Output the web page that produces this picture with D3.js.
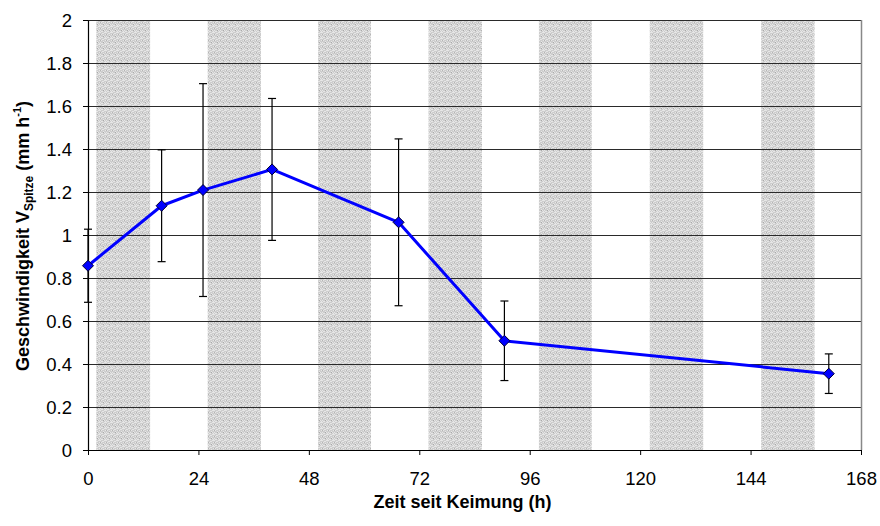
<!DOCTYPE html>
<html>
<head>
<meta charset="utf-8">
<script src="https://cdn.jsdelivr.net/npm/d3@7"></script>
<style>
  body { margin: 0; background: #fff; }
  text { font-family: Arial, "Liberation Sans", sans-serif; }
  .tick text { font-size: 18.5px; fill: #000; }
  .title { font-size: 18px; font-weight: bold; }
</style>
</head>
<body>
<svg id="chart" width="880" height="526"></svg>
<script>
// Zeit seit Keimung (h) und Geschwindigkeit (mm/h)
var hours = [0, 16, 25, 40, 67.5, 90.5, 161];
var speed = [0.857, 1.136, 1.209, 1.305, 1.059, 0.508, 0.355];
var errs  = [0.17, 0.26, 0.495, 0.33, 0.388, 0.185, 0.092];

// dunkel-Phasen (grau hinterlegt)
var darkStart = [1.8, 26, 50, 74, 98, 122.1, 146.3];
var darkEnd   = [13.5, 37.6, 61.5, 85.6, 109.5, 133.7, 157.9];

var xTicks = [0, 24, 48, 72, 96, 120, 144, 168];
var yTicks = [0, 0.2, 0.4, 0.6, 0.8, 1, 1.2, 1.4, 1.6, 1.8, 2];

var svg = d3.select("#chart"),
    margin = {top: 20, right: 19, bottom: 76, left: 88},
    width = svg.attr("width") - margin.left - margin.right,
    height = svg.attr("height") - margin.top - margin.bottom;

var x = d3.scaleLinear().domain([0, 168]).range([0, width]),
    y = d3.scaleLinear().domain([0, 2]).range([height, 0]);

// stipple texture for the bands
var defs = svg.append("defs");
var pat = defs.append("pattern")
    .attr("id", "stipple")
    .attr("patternUnits", "userSpaceOnUse")
    .attr("width", 6).attr("height", 6);
pat.append("rect").attr("width", 6).attr("height", 6).attr("fill", "#cdcdcd");
var light = [[0,0],[2,1],[4,0],[1,2],[3,3],[5,2],[0,4],[2,5],[4,4],[5,5],[1,5],[3,1],[5,0]];
light.forEach(function(p) {
  pat.append("rect").attr("x", p[0]).attr("y", p[1]).attr("width", 1).attr("height", 1).attr("fill", "#e6e6e6");
});
pat.append("rect").attr("x", 3).attr("y", 4).attr("width", 1).attr("height", 1).attr("fill", "#aaaaaa");
pat.append("rect").attr("x", 0).attr("y", 2).attr("width", 1).attr("height", 1).attr("fill", "#b4b4b4");

var g = svg.append("g")
    .attr("transform", "translate(" + margin.left + "," + margin.top + ")");

g.selectAll(".band")
  .data(darkStart)
  .enter().append("rect")
    .attr("class", "band")
    .attr("x", function(d) { return x(d); })
    .attr("y", 0)
    .attr("width", function(d, i) { return x(darkEnd[i]) - x(d); })
    .attr("height", height)
    .attr("fill", "url(#stipple)");

// gridlines
g.selectAll(".grid")
  .data(yTicks.slice(1))
  .enter().append("line")
    .attr("class", "grid")
    .attr("x1", 0).attr("x2", width)
    .attr("y1", function(d) { return Math.round(y(d)) + 0.5; })
    .attr("y2", function(d) { return Math.round(y(d)) + 0.5; })
    .attr("stroke", "#2a2a2a")
    .attr("stroke-width", 1);

// right border
g.append("line")
    .attr("x1", width + 0.5).attr("x2", width + 0.5)
    .attr("y1", 0).attr("y2", height)
    .attr("stroke", "#888").attr("stroke-width", 1.5);

var fmt = function(d) { return String(+d.toFixed(1)); };

var xAxis = g.append("g")
    .attr("class", "axis axis--x")
    .attr("transform", "translate(0," + height + ")")
    .call(d3.axisBottom(x).tickValues(xTicks).tickSize(5).tickSizeOuter(0).tickPadding(17));

var yAxis = g.append("g")
    .attr("class", "axis axis--y")
    .call(d3.axisLeft(y).tickValues(yTicks).tickFormat(fmt).tickSize(5).tickSizeOuter(0).tickPadding(11));

svg.selectAll(".axis path").attr("stroke", "#000").attr("stroke-width", 1.2);
svg.selectAll(".axis line").attr("stroke", "#000");
svg.selectAll(".axis text").attr("font-family", "Arial, 'Liberation Sans', sans-serif");
yAxis.selectAll("text").attr("dy", "0.36em");

// error bars
var eb = g.selectAll(".err")
  .data(hours)
  .enter().append("g")
    .attr("class", "err");
eb.append("line")
    .attr("x1", function(d) { return x(d); })
    .attr("x2", function(d) { return x(d); })
    .attr("y1", function(d, i) { return y(speed[i] + errs[i]); })
    .attr("y2", function(d, i) { return y(speed[i] - errs[i]); })
    .attr("stroke", "#000").attr("stroke-width", 1.2);
eb.append("line")
    .attr("x1", function(d) { return x(d) - 4; })
    .attr("x2", function(d) { return x(d) + 4; })
    .attr("y1", function(d, i) { return y(speed[i] + errs[i]); })
    .attr("y2", function(d, i) { return y(speed[i] + errs[i]); })
    .attr("stroke", "#000").attr("stroke-width", 1.2);
eb.append("line")
    .attr("x1", function(d) { return x(d) - 4; })
    .attr("x2", function(d) { return x(d) + 4; })
    .attr("y1", function(d, i) { return y(speed[i] - errs[i]); })
    .attr("y2", function(d, i) { return y(speed[i] - errs[i]); })
    .attr("stroke", "#000").attr("stroke-width", 1.2);

// line
var line = d3.line()
    .x(function(d, i) { return x(hours[i]); })
    .y(function(d) { return y(d); });

g.append("path")
    .datum(speed)
    .attr("fill", "none")
    .attr("stroke", "#0000ff")
    .attr("stroke-width", 3)
    .attr("stroke-linejoin", "round")
    .attr("d", line);

// diamond markers
g.selectAll(".pt")
  .data(speed)
  .enter().append("path")
    .attr("class", "pt")
    .attr("transform", function(d, i) { return "translate(" + x(hours[i]) + "," + y(d) + ")"; })
    .attr("d", "M0,-5.5L5.5,0L0,5.5L-5.5,0Z")
    .attr("fill", "#0000ff")
    .attr("stroke", "#000033")
    .attr("stroke-width", 1);

// axis titles
svg.append("text")
    .attr("class", "title")
    .attr("x", margin.left + width / 2 - 12)
    .attr("y", 508)
    .attr("text-anchor", "middle")
    .text("Zeit seit Keimung (h)");

var yt = svg.append("text")
    .attr("class", "title")
    .attr("text-anchor", "middle")
    .attr("transform", "translate(29,236) rotate(-90)");
yt.append("tspan").text("Geschwindigkeit V");
yt.append("tspan").attr("font-size", "12px").attr("dy", 4).text("Spitze");
yt.append("tspan").attr("dy", -4).text(" (mm h");
yt.append("tspan").attr("font-size", "11px").attr("dy", -8).text("-1");
yt.append("tspan").attr("dy", 8).text(")");
</script>
</body>
</html>
